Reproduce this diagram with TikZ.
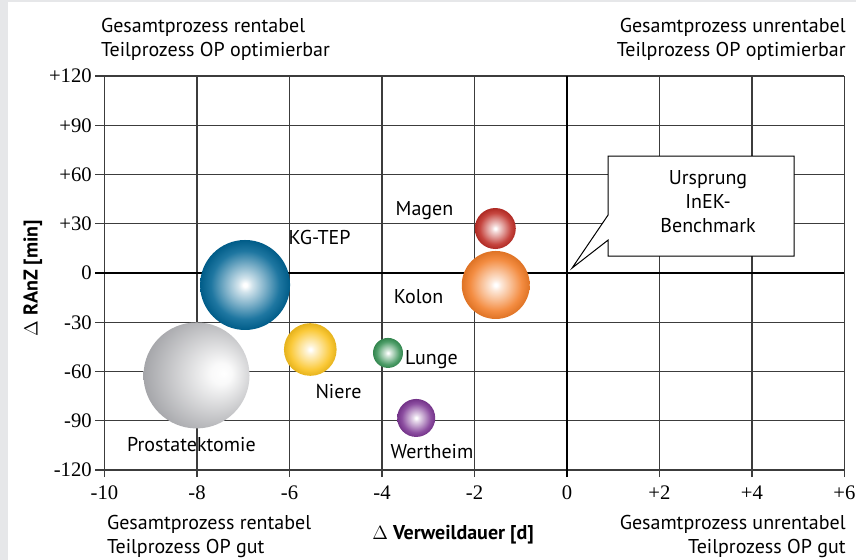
\documentclass[tikz,border=0pt]{standalone}
\usepackage{fontspec}
\setmainfont{PT Sans}
\newfontfamily\tickfont{Liberation Serif}
\usetikzlibrary{positioning}

\definecolor{gridgray}{RGB}{60,60,60}
\definecolor{papergray}{RGB}{230,231,233}
\definecolor{kgtepblue}{RGB}{0,100,148}
\definecolor{prostgray}{RGB}{138,139,144}
\definecolor{niereyellow}{RGB}{250,194,30}
\definecolor{lungegreen}{RGB}{55,145,85}
\definecolor{wertheimpurple}{RGB}{125,55,148}
\definecolor{magenred}{RGB}{190,45,38}
\definecolor{kolonorange}{RGB}{242,125,40}

\colorlet{ballcol}{gray}
\pgfdeclareradialshading[ballcol]{bubble}{\pgfpoint{0bp}{0bp}}{%
  color(0bp)=(white); color(1bp)=(white); color(4bp)=(ballcol!18!white); color(11bp)=(ballcol!50!white);
  color(19bp)=(ballcol!88!white); color(25bp)=(ballcol!92!black); color(50bp)=(ballcol!92!black)}
\pgfdeclareradialshading[ballcol]{bubbleright}{\pgfpoint{13bp}{1bp}}{%
  color(0bp)=(white); color(5bp)=(white!95!ballcol); color(18bp)=(ballcol!42!white); color(38bp)=(ballcol); color(50bp)=(ballcol)}

\begin{document}
\begin{tikzpicture}[x=34.69pt, y=1.2313pt,
    gridline/.style={gridgray, line width=0.85pt},
    axisline/.style={black, line width=1.9pt},
    ball/.style={circle, inner sep=0pt, /utils/exec={\colorlet{ballcol}{#1}}, shading=bubble},
    textlabel/.style={font=\fontsize{15}{18}\selectfont},
    quadrant/.style={textlabel, align=#1, inner sep=0pt},
    ticklabel/.style={font=\tickfont\fontsize{15.5}{18}\selectfont, inner sep=0pt},
    axislabel/.style={font=\bfseries\fontsize{15}{18}\selectfont},
    calloutline/.style={draw=black, fill=white, line width=0.75pt}]

    \useasboundingbox (-12.259,-174.8) rectangle (6.249,166.3);
    \fill[papergray] (-12.259,-174.8) rectangle (-12.086,166.3);
    \fill[papergray] (-12.259,165.1) rectangle (6.249,166.3);

    % grid, ticks and axes
    \draw[gridline] (-10,-120) grid[xstep=2,ystep=30] (6,120);
    \draw[gridline] (-10.2,-120) grid[xstep=2,ystep=30] (-10,120);
    \draw[gridline] (-10,-124.3) grid[xstep=2,ystep=30] (6,-120);
    \draw[axisline] (-10.2,0) -- (6,0);
    \draw[axisline] (0,-124.3) -- (0,120);

    \node[ticklabel, anchor=east] (y120) at (-10.27,120) {+120};
    \node[ticklabel, anchor=east] (y90) at (-10.27,90) {+90};
    \node[ticklabel, anchor=east] (y60) at (-10.27,60) {+60};
    \node[ticklabel, anchor=east] (y30) at (-10.27,30) {+30};
    \node[ticklabel, anchor=east] (y0) at (-10.27,0) {0};
    \node[ticklabel, anchor=east] (ym30) at (-10.27,-30) {-30};
    \node[ticklabel, anchor=east] (ym60) at (-10.27,-60) {-60};
    \node[ticklabel, anchor=east] (ym90) at (-10.27,-90) {-90};
    \node[ticklabel, anchor=east] (ym120) at (-10.27,-120) {-120};

    \node[ticklabel] (xm10) at (-10,-134) {-10};
    \node[ticklabel] (xm8) at (-8,-134) {-8};
    \node[ticklabel] (xm6) at (-6,-134) {-6};
    \node[ticklabel] (xm4) at (-4,-134) {-4};
    \node[ticklabel] (xm2) at (-2,-134) {-2};
    \node[ticklabel] (x0) at (0,-134) {0};
    \node[ticklabel] (x2) at (2,-134) {+2};
    \node[ticklabel] (x4) at (4,-134) {+4};
    \node[ticklabel] (x6) at (6,-134) {+6};

    \node[axislabel] (xlabel) at (-2.46,-159.6) {$\Delta$ Verweildauer [d]};
    \node[axislabel, rotate=90] (ylabel) at (-11.55,-3) {$\Delta$ RAnZ [min]};

    % quadrants
    \node[quadrant=left, anchor=west] (qtl) at (-10.08,142.6) {Gesamtprozess rentabel\\Teilprozess OP optimierbar};
    \node[quadrant=right, anchor=east] (qtr) at (6.03,142.6) {Gesamtprozess unrentabel\\Teilprozess OP optimierbar};
    \node[quadrant=left, anchor=west] (qbl) at (-9.95,-160.5) {Gesamtprozess rentabel\\Teilprozess OP gut};
    \node[quadrant=right, anchor=east] (qbr) at (6.03,-160.5) {Gesamtprozess unrentabel\\Teilprozess OP gut};

    % InEK callout
    \coordinate (callout) at (3.05,43.5);
    \coordinate (nullpunkt) at (0.11,3);
    \draw[calloutline] ([shift={(-75pt,34.1pt)}]callout) -- ([shift={(64.5pt,34.1pt)}]callout)
        -- ([shift={(64.5pt,-40.9pt)}]callout) -- ([shift={(-75pt,-40.9pt)}]callout)
        -- ([shift={(-75pt,-28.9pt)}]callout) -- (nullpunkt) -- ([shift={(-75pt,-10.1pt)}]callout) -- cycle;
    \node[textlabel, align=center, inner sep=0pt] (ursprung) at (callout) {Ursprung\\InEK-\\Benchmark};

    % bubbles
    \node[ball=kgtepblue, minimum size=67.5pt] (kgtep) at (-6.96,-7.3) {};
    \node[ball=prostgray, shading=bubbleright, minimum size=79.5pt] (prost) at (-8.01,-62.4) {};
    \node[ball=niereyellow, minimum size=39.5pt] (niere) at (-5.55,-46.6) {};
    \node[ball=lungegreen, minimum size=22.5pt] (lunge) at (-3.87,-48.7) {};
    \node[ball=wertheimpurple, minimum size=28.5pt] (wertheim) at (-3.26,-88.3) {};
    \node[ball=magenred, minimum size=30.75pt] (magen) at (-1.55,27.1) {};
    \node[ball=kolonorange, minimum size=51pt] (kolon) at (-1.54,-7.3) {};

    \node[textlabel] (magentext) at (-3.08,37.8) {Magen};
    \node[textlabel] (kgteptext) at (-5.35,21.5) {KG-TEP};
    \node[textlabel] (kolontext) at (-3.21,-14.6) {Kolon};
    \node[textlabel] (lungetext) at (-2.93,-53) {Lunge};
    \node[textlabel] (nieretext) at (-4.94,-72) {Niere};
    \node[textlabel] (prosttext) at (-8.12,-104.2) {Prostatektomie};
    \node[textlabel] (wertheimtext) at (-2.92,-109) {Wertheim};
\end{tikzpicture}
\end{document}
